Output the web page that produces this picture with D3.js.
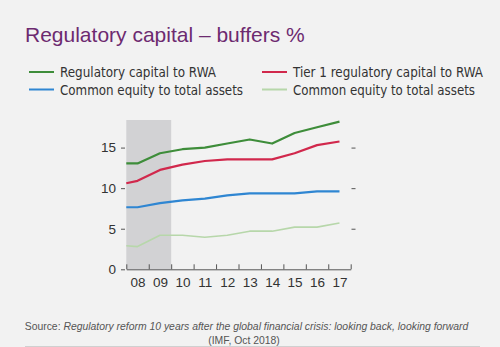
<!DOCTYPE html>
<html>
<head>
<meta charset="utf-8">
<script src="https://cdn.jsdelivr.net/npm/d3@7"></script>
<style>
  body { margin: 0; background: #f2f2f2; }
  svg { display: block; font-family: "DejaVu Sans Condensed", "Liberation Sans", Arial, sans-serif; }
  .axis text { font-size: 13.5px; fill: #333; }
  .axis line, .axis path { stroke: #555; }
</style>
</head>
<body>
<svg id="chart" width="500" height="347"></svg>
<script>
// years shown on the x axis, plus the start of the series at the left edge
var years = [2007.5, 2008, 2009, 2010, 2011, 2012, 2013, 2014, 2015, 2016, 2017];
var yearLabels = ["08", "09", "10", "11", "12", "13", "14", "15", "16", "17"];
var yTicks = [0, 5, 10, 15];

var regCapital = [13.05, 13.05, 14.3, 14.8, 15.0, 15.5, 16.0, 15.5, 16.8, 17.5, 18.2];
var tier1Capital = [10.6, 10.9, 12.25, 12.9, 13.35, 13.55, 13.55, 13.55, 14.3, 15.3, 15.75];
var equityAssets = [7.65, 7.65, 8.15, 8.5, 8.7, 9.1, 9.35, 9.35, 9.35, 9.6, 9.6];
var equityAssets2 = [2.9, 2.8, 4.2, 4.2, 3.95, 4.2, 4.7, 4.7, 5.2, 5.2, 5.7];

// crisis period shading
var shadeFrom = 2007.5, shadeTo = 2009.5;

var series = [
    { name: "Regulatory capital to RWA", values: regCapital, color: "#3e8d3a", width: 2.2 },
    { name: "Tier 1 regulatory capital to RWA", values: tier1Capital, color: "#d1284c", width: 2.2 },
    { name: "Common equity to total assets", values: equityAssets, color: "#2f86d2", width: 2.2 },
    { name: "Common equity to total assets", values: equityAssets2, color: "#b7d7aa", width: 1.6 }
];

var svg = d3.select("#chart");

var x = d3.scaleLinear().domain([2007.5, 2017.5]).range([126.3, 350.7]);
var y = d3.scaleLinear().domain([0, 18.4]).range([269.3, 120]);

// title
svg.append("text")
    .attr("x", 25).attr("y", 42)
    .style("font-family", "'Liberation Sans', Arial, sans-serif")
    .style("font-size", "21px")
    .attr("fill", "#6d2a70")
    .text("Regulatory capital – buffers %");

// legend, two columns
var legendPos = [[29, 72], [262, 72], [29, 89.5], [262, 89.5]];
var legendWidths = [156, 190, 183, 182];
series.forEach(function (s, i) {
    var p = legendPos[i];
    svg.append("line")
        .attr("x1", p[0]).attr("x2", p[0] + 25)
        .attr("y1", p[1]).attr("y2", p[1])
        .attr("stroke", s.color).attr("stroke-width", 2);
    svg.append("text")
        .attr("x", p[0] + 31).attr("y", p[1] + 5)
        .style("font-size", "14px")
        .attr("fill", "#333")
        .attr("textLength", legendWidths[i])
        .attr("lengthAdjust", "spacingAndGlyphs")
        .text(s.name);
});

// shaded box
svg.append("rect")
    .attr("x", x(shadeFrom)).attr("y", y.range()[1])
    .attr("width", x(shadeTo) - x(shadeFrom))
    .attr("height", y(0) - y.range()[1])
    .attr("fill", "#d2d2d4");

// x axis: ticks between years pointing up, labels centred on each year
var bounds = d3.range(2007.5, 2018, 1);
svg.append("g").attr("class", "axis")
    .attr("transform", "translate(0," + y(0) + ")")
    .call(d3.axisBottom(x).tickValues(bounds).tickSize(-5).tickFormat("").tickSizeOuter(0));

var xLabels = svg.append("g").attr("class", "axis")
    .attr("transform", "translate(0," + y(0) + ")")
    .call(d3.axisBottom(x).tickValues(d3.range(2008, 2018)).tickSize(0).tickPadding(8)
        .tickFormat(function (d, i) { return yearLabels[i]; }));
xLabels.select(".domain").remove();

// y axis on the left, dashes only on the right
var yAxis = svg.append("g").attr("class", "axis")
    .attr("transform", "translate(125,0)")
    .call(d3.axisLeft(y).tickValues(yTicks).tickSize(4).tickPadding(5));
yAxis.select(".domain").remove();

var yRight = svg.append("g").attr("class", "axis")
    .attr("transform", "translate(351.5,0)")
    .call(d3.axisRight(y).tickValues([5, 10, 15]).tickSize(4).tickFormat(""));
yRight.select(".domain").remove();

var line = d3.line()
    .x(function (d, i) { return x(years[i]); })
    .y(function (d) { return y(d); });

series.slice().reverse().forEach(function (s) {
    svg.append("path")
        .attr("d", line(s.values))
        .attr("fill", "none")
        .attr("stroke", s.color)
        .attr("stroke-width", s.width)
        .attr("stroke-linejoin", "round");
});

// source note
var note = svg.append("text")
    .attr("x", 246.5).attr("y", 330)
    .attr("text-anchor", "middle")
    .style("font-family", "'Liberation Sans', Arial, sans-serif")
    .style("font-size", "10.4px")
    .attr("fill", "#555");
note.append("tspan").text("Source: ");
note.append("tspan").style("font-style", "italic")
    .text("Regulatory reform 10 years after the global financial crisis: looking back, looking forward");

svg.append("text")
    .attr("x", 244).attr("y", 344)
    .attr("text-anchor", "middle")
    .style("font-family", "'Liberation Sans', Arial, sans-serif")
    .style("font-size", "10.4px")
    .attr("fill", "#555")
    .text("(IMF,  Oct 2018)");

svg.append("line")
    .attr("x1", 25).attr("x2", 480)
    .attr("y1", 346.5).attr("y2", 346.5)
    .attr("stroke", "#d0d0d0");
</script>
</body>
</html>
